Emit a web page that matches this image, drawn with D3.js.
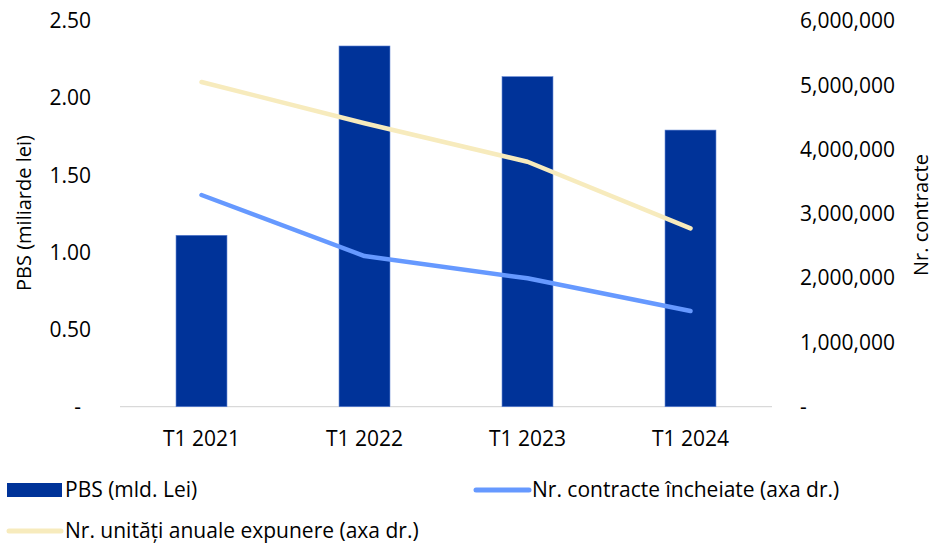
<!DOCTYPE html>
<html><head><meta charset="utf-8">
<script src="https://cdn.jsdelivr.net/npm/d3@7"></script>
<style>body{margin:0;background:#fff}svg{display:block}text{font-family:"Open Sans","Noto Sans",sans-serif;fill:#000}</style>
</head><body><svg id="c" width="937" height="544"></svg>
<script>
const categories = ["T1 2021","T1 2022","T1 2023","T1 2024"];
const pbs = [1.111, 2.338, 2.139, 1.793];
const contracte = [3293000, 2344000, 1997000, 1489000];
const unitati = [5051000, 4409000, 3811000, 2775000];
const leftTicks = [0, 0.5, 1, 1.5, 2, 2.5];
const rightTicks = [0, 1000000, 2000000, 3000000, 4000000, 5000000, 6000000];

const svg = d3.select("#c");
const x = d3.scaleBand().domain(categories).range([120, 772]).paddingInner(0.6875).paddingOuter(0.34375);
const yL = d3.scaleLinear().domain([0, 2.5]).range([406.7, 21]);
const yR = d3.scaleLinear().domain([0, 6000000]).range([406.7, 21]);

// x axis line
svg.append("line").attr("x1",120).attr("x2",772).attr("y1",yL(0)).attr("y2",yL(0))
  .attr("stroke","#d9d9d9").attr("stroke-width",1.3);

// bars
svg.selectAll("rect.bar").data(pbs).join("rect").attr("class","bar")
  .attr("x",(d,i)=>x(categories[i])).attr("width",x.bandwidth())
  .attr("y",d=>yL(d)).attr("height",d=>yL(0)-yL(d))
  .attr("fill","#003399").attr("stroke","#5a7fd0").attr("stroke-width",0.6);

const cx = c => x(c) + x.bandwidth()/2;
const line = d3.line().x((d,i)=>cx(categories[i])).y(d=>yR(d));
svg.append("path").datum(unitati).attr("d",line).attr("fill","none")
  .attr("stroke","#f7ebbd").attr("stroke-width",4.5).attr("stroke-linecap","round").attr("stroke-linejoin","round");
svg.append("path").datum(contracte).attr("d",line).attr("fill","none")
  .attr("stroke","#6699ff").attr("stroke-width",4.5).attr("stroke-linecap","round").attr("stroke-linejoin","round");

// left axis labels
const fL = d3.format(".2f");
svg.selectAll("text.yl").data(leftTicks).join("text").attr("class","yl")
  .attr("x",d=>d===0?81:91).attr("y",d=>yL(d)).attr("dy","0.35em")
  .attr("text-anchor","end").attr("font-size",21)
  .text(d=>d===0?"-":fL(d));
// right axis labels
const fR = d3.format(",");
svg.selectAll("text.yr").data(rightTicks).join("text").attr("class","yr")
  .attr("x",800).attr("y",d=>yR(d)).attr("dy","0.35em")
  .attr("text-anchor","start").attr("font-size",21)
  .text(d=>d===0?"-":fR(d));
// x labels
svg.selectAll("text.xl").data(categories).join("text").attr("class","xl")
  .attr("x",d=>cx(d)).attr("y",439).attr("dy","0.35em")
  .attr("text-anchor","middle").attr("font-size",21).text(d=>d);

// axis titles
svg.append("text").attr("transform","translate(24,213) rotate(-90)").attr("text-anchor","middle")
  .attr("dy","0.35em").attr("font-size",20).text("PBS (miliarde lei)");
svg.append("text").attr("transform","translate(921,215) rotate(-90)").attr("text-anchor","middle")
  .attr("font-size",20).attr("dy","0.35em").text("Nr. contracte");

// legend
const lg = svg.append("g");
lg.append("rect").attr("x",7).attr("y",483).attr("width",55).attr("height",14).attr("fill","#003399");
lg.append("text").attr("x",65).attr("y",490).attr("dy","0.35em").attr("font-size",21).text("PBS (mld. Lei)");
lg.append("line").attr("x1",476).attr("x2",529).attr("y1",490).attr("y2",490)
  .attr("stroke","#6699ff").attr("stroke-width",5).attr("stroke-linecap","round");
lg.append("text").attr("x",532).attr("y",490).attr("dy","0.35em").attr("font-size",21).text("Nr. contracte încheiate (axa dr.)");
lg.append("line").attr("x1",9).attr("x2",61).attr("y1",531).attr("y2",531)
  .attr("stroke","#f7ebbd").attr("stroke-width",5).attr("stroke-linecap","round");
lg.append("text").attr("x",65).attr("y",531).attr("dy","0.35em").attr("font-size",21).text("Nr. unități anuale expunere (axa dr.)");
</script></body></html>
